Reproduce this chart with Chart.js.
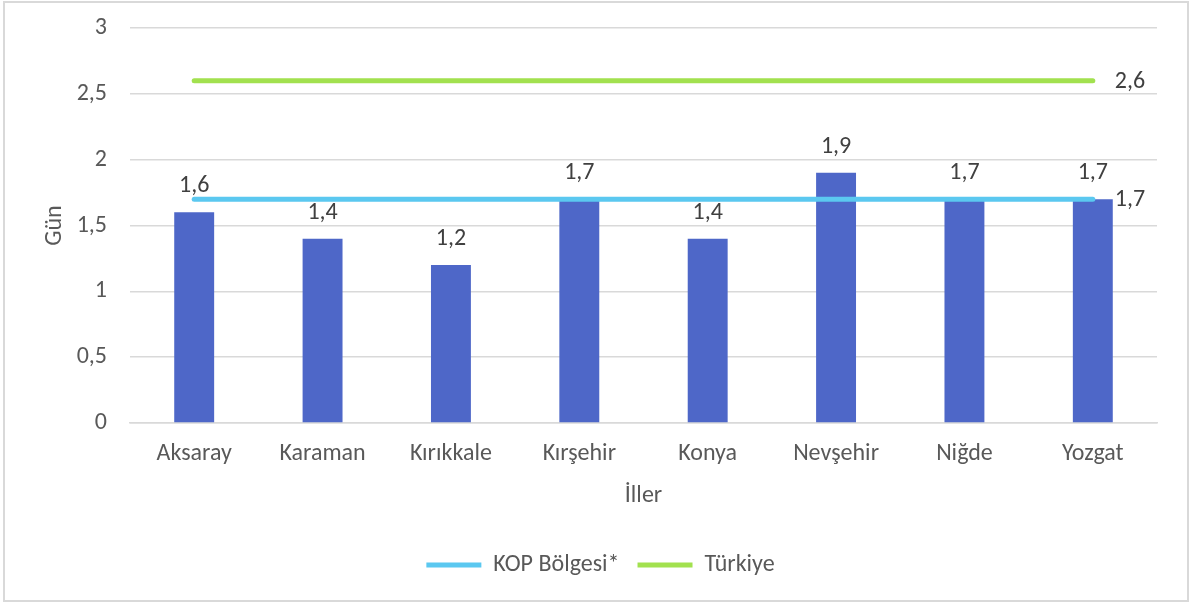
<!DOCTYPE html>
<html>
<head>
<meta charset="utf-8">
<script src="https://cdn.jsdelivr.net/npm/chart.js@4/dist/chart.umd.min.js"></script>
<style>
  html, body { margin: 0; padding: 0; background: #ffffff; }
  #wrap { position: relative; width: 1192px; height: 605px; }
  #frame { position: absolute; left: 3px; top: 1px; width: 1182px; height: 597px; border: 2px solid #d9d9d9; pointer-events: none; }
  canvas { position: absolute; left: 0; top: 0; }
</style>
</head>
<body>
<div id="wrap">
  <canvas id="c" width="1192" height="605"></canvas>
  <div id="frame"></div>
</div>
<script>
const categories = ['Aksaray', 'Karaman', 'Kırıkkale', 'Kırşehir', 'Konya', 'Nevşehir', 'Niğde', 'Yozgat'];
const ilValues = [1.6, 1.4, 1.2, 1.7, 1.4, 1.9, 1.7, 1.7];
const kopValues = [1.7, 1.7, 1.7, 1.7, 1.7, 1.7, 1.7, 1.7];
const turkiyeValues = [2.6, 2.6, 2.6, 2.6, 2.6, 2.6, 2.6, 2.6];
const seriesNames = ['İller', 'KOP Bölgesi*', 'Türkiye'];
const yTickValues = [0, 0.5, 1, 1.5, 2, 2.5, 3];
const yAxisTitle = 'Gün';
const xAxisTitle = 'İller';

const FONT = 'Carlito, Lato, "Open Sans", sans-serif';
const FS = 24;
const fmt = v => String(v).replace('.', ',');

const labelPlugin = {
  id: 'valueLabels',
  afterLayout(chart) {
    if (chart.legend) { chart.legend.left += 22; chart.legend.right += 22; }
  },
  afterDatasetsDraw(chart) {
    const ctx = chart.ctx;
    ctx.save();
    ctx.font = FS + 'px ' + FONT;
    ctx.fillStyle = '#404040';
    chart.data.datasets.forEach((ds, i) => {
      const meta = chart.getDatasetMeta(i);
      if (ds.type === 'bar') {
        ctx.textAlign = 'center';
        ctx.textBaseline = 'middle';
        meta.data.forEach((el, j) => {
          ctx.fillText(fmt(ds.data[j]), el.x, el.y - 26);
        });
      } else {
        const j = meta.data.length - 1;
        const el = meta.data[j];
        ctx.textAlign = 'left';
        ctx.textBaseline = 'middle';
        ctx.fillText(fmt(ds.data[j]), el.x + 22, el.y + 1);
      }
    });
    ctx.restore();
  }
};

new Chart(document.getElementById('c'), {
  data: {
    labels: categories,
    datasets: [
      {
        type: 'line', label: seriesNames[1], data: kopValues,
        borderColor: '#5bc8f0', backgroundColor: '#5bc8f0',
        borderWidth: 5, borderCapStyle: 'round', pointRadius: 0, order: 0
      },
      {
        type: 'line', label: seriesNames[2], data: turkiyeValues,
        borderColor: '#a2e14f', backgroundColor: '#a2e14f',
        borderWidth: 5, borderCapStyle: 'round', pointRadius: 0, order: 0
      },
      {
        type: 'bar', label: seriesNames[0], data: ilValues,
        backgroundColor: '#4e67c8', borderWidth: 0,
        barPercentage: 0.311, categoryPercentage: 1, order: 1
      }
    ]
  },
  options: {
    responsive: false,
    animation: false,
    devicePixelRatio: 1,
    layout: { padding: { top: 28, right: 35, bottom: 18, left: 0 } },
    plugins: {
      tooltip: { enabled: false },
      legend: {
        position: 'bottom',
        labels: {
          filter: item => item.text !== seriesNames[0],
          usePointStyle: true,
          pointStyle: 'line',
          pointStyleWidth: 55,
          padding: 18,
          color: '#595959',
          font: { family: FONT, size: FS }
        }
      }
    },
    scales: {
      x: {
        grid: { display: false, drawTicks: false },
        border: { display: true, color: '#d9d9d9', width: 1.5 },
        ticks: { color: '#595959', padding: 17, font: { family: FONT, size: FS } },
        title: { display: true, text: xAxisTitle, color: '#595959', padding: { top: 0, bottom: 25 }, font: { family: FONT, size: FS } },
        afterFit: s => { s.height = 112; }
      },
      y: {
        min: 0, max: 3,
        afterBuildTicks: s => { s.ticks = yTickValues.map(v => ({ value: v })); },
        grid: { color: '#d9d9d9', lineWidth: 1.5, drawTicks: false },
        border: { display: false },
        ticks: { color: '#595959', padding: 23, font: { family: FONT, size: FS }, callback: v => fmt(v) },
        title: { display: true, text: yAxisTitle, color: '#595959', padding: { top: 41, bottom: 0 }, font: { family: FONT, size: FS } },
        afterFit: s => { s.width = 130; s.paddingTop = 0; s.paddingBottom = 0; }
      }
    }
  },
  plugins: [labelPlugin]
});
</script>
</body>
</html>
